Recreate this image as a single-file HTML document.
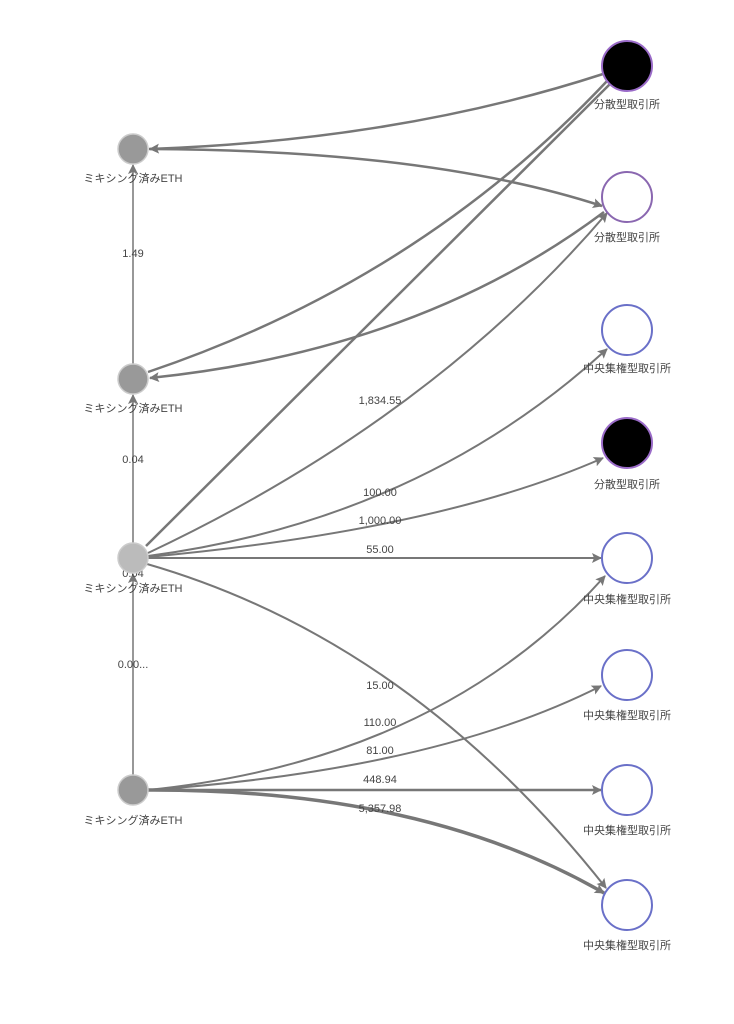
<!DOCTYPE html>
<html><head><meta charset="utf-8"><style>
html,body{margin:0;padding:0;background:#fff;width:734px;height:1024px;overflow:hidden}
text{font-family:"Liberation Sans","Noto Sans CJK JP",sans-serif;font-size:11px;fill:#444}
</style></head><body>
<svg width="734" height="1024" viewBox="0 0 734 1024" xmlns="http://www.w3.org/2000/svg">
<defs>
<marker id="b" viewBox="0 0 10 10" refX="9" refY="5" markerWidth="16" markerHeight="10" orient="auto" markerUnits="userSpaceOnUse"><path d="M0,0 L10,5 L0,10 L2,5 z" fill="#777"/></marker>
</defs>
<g fill="none" stroke="#777">
<path d="M133,790 L133,574" stroke-width="1.5" marker-end="url(#b)"/>
<path d="M133,543 L133,395" stroke-width="1.5" marker-end="url(#b)"/>
<path d="M133,364 L133,165" stroke-width="1.5" marker-end="url(#b)"/>
<path d="M603,74 Q400,140 150,149" stroke-width="2.5" marker-end="url(#b)"/>
<path d="M149,149 Q430,150 602,206" stroke-width="2.5" marker-end="url(#b)"/>
<path d="M148,372 Q420,280 608,80" stroke-width="2.5"/>
<path d="M146,546 L611,83" stroke-width="2.5"/>
<path d="M604,212 Q420,350 150,378" stroke-width="2.5" marker-end="url(#b)"/>
<path d="M148,553 Q430,420 607,213" stroke-width="2" marker-end="url(#b)"/>
<path d="M148,556 Q420,520 607,349" stroke-width="2" marker-end="url(#b)"/>
<path d="M148,557 Q440,530 603,458" stroke-width="2" marker-end="url(#b)"/>
<path d="M148,558 L601,558" stroke-width="2" marker-end="url(#b)"/>
<path d="M147,564 Q410,640 606,888" stroke-width="2" marker-end="url(#b)"/>
<path d="M148,790 Q440,760 605,576" stroke-width="2" marker-end="url(#b)"/>
<path d="M148,790 Q435,770 601,686" stroke-width="2" marker-end="url(#b)"/>
<path d="M148,790 L601,790" stroke-width="2.5" marker-end="url(#b)"/>
<path d="M148,790 Q424,789 604,893" stroke-width="3.5" marker-end="url(#b)"/>
</g>
<g text-anchor="middle">
<text x="133" y="257">1.49</text>
<text x="133" y="463">0.04</text>
<text x="133" y="577">0.04</text>
<text x="133" y="668">0.00...</text>
<text x="380" y="404">1,834.55</text>
<text x="380" y="496">100.00</text>
<text x="380" y="524">1,000.00</text>
<text x="380" y="553">55.00</text>
<text x="380" y="689">15.00</text>
<text x="380" y="726">110.00</text>
<text x="380" y="754">81.00</text>
<text x="380" y="783">448.94</text>
<text x="380" y="812">5,357.98</text>
</g>
<g fill="#999" stroke="#ccc" stroke-width="1.5">
<circle cx="133" cy="149" r="15"/>
<circle cx="133" cy="379" r="15"/>
<circle cx="133" cy="558" r="15" fill="#bbb"/>
<circle cx="133" cy="790" r="15"/>
</g>
<g text-anchor="middle">
<text x="133" y="182">ミキシング済みETH</text>
<text x="133" y="412">ミキシング済みETH</text>
<text x="133" y="592">ミキシング済みETH</text>
<text x="133" y="824">ミキシング済みETH</text>
</g>
<g stroke-width="2">
<circle cx="627" cy="66" r="25" fill="#000" stroke="#9a6bc8"/>
<circle cx="627" cy="197" r="25" fill="#fff" stroke="#8a67b0"/>
<circle cx="627" cy="330" r="25" fill="#fff" stroke="#6a70c8"/>
<circle cx="627" cy="443" r="25" fill="#000" stroke="#9a6bc8"/>
<circle cx="627" cy="558" r="25" fill="#fff" stroke="#6a70c8"/>
<circle cx="627" cy="675" r="25" fill="#fff" stroke="#6a70c8"/>
<circle cx="627" cy="790" r="25" fill="#fff" stroke="#6a70c8"/>
<circle cx="627" cy="905" r="25" fill="#fff" stroke="#6a70c8"/>
</g>
<g text-anchor="middle">
<text x="627" y="108">分散型取引所</text>
<text x="627" y="241">分散型取引所</text>
<text x="627" y="372">中央集権型取引所</text>
<text x="627" y="488">分散型取引所</text>
<text x="627" y="603">中央集権型取引所</text>
<text x="627" y="719">中央集権型取引所</text>
<text x="627" y="834">中央集権型取引所</text>
<text x="627" y="949">中央集権型取引所</text>
</g>
</svg>
</body></html>
